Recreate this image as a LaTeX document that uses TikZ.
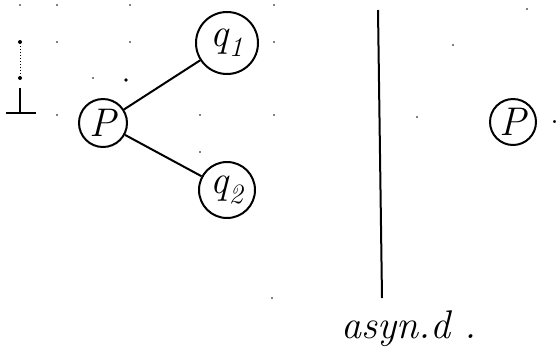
\documentclass[tikz,border=0pt]{standalone}
\usepackage{fontspec}
\begin{document}
\begin{tikzpicture}[x=1pt, y=-1pt, line width=2pt,
    estado/.style={draw, circle, inner sep=0pt, font=\fontsize{40}{44}\selectfont\itshape},
    punto/.style={inner sep=0pt}]
    \useasboundingbox (0,0) rectangle (559,360);

    % Puntos de la cuadrícula del papel
    \foreach \x/\y in {20/5, 57/5, 130/5, 274/5, 57/42, 130/42, 274/42, 93/78,
                       57/115, 200/115, 274/115, 200/152, 272/298, 417/117, 453/45, 527/9}
        \fill (\x,\y) circle (0.9pt);

    % Símbolo de fondo con línea punteada
    \fill (20,42) circle (2pt);
    \fill (20,78) circle (2pt);
    \fill (126,80) circle (1.8pt);
    \draw[line width=1pt, dotted] (20,46) -- (20,76);
    \draw (20,88) -- (20,113);
    \draw (6,113) -- (36,113);

    % Árbol: p con sus hijos q1 y q2
    \node[estado, minimum size=48pt] (p) at (103,123) {P};
    \node[estado, minimum size=62pt] (q1) at (227,43) {q\textsubscript{1}};
    \node[estado, minimum size=56pt] (q2) at (227,190) {q\textsubscript{2}};
    \draw (p) -- (q1);
    \draw (p) -- (q2);

    % Separador vertical y etiqueta
    \coordinate (arriba) at (378,10);
    \coordinate (abajo) at (382,298);
    \draw (arriba) -- (abajo);
    \node[font=\fontsize{40}{44}\selectfont\itshape] (asyn) at (409,329) {asyn.d .};

    % Estado p solo a la derecha
    \node[estado, minimum size=46pt] (p2) at (513,122) {P};
    \node[punto, anchor=west, font=\fontsize{36}{40}\selectfont] (fin) at ([xshift=12pt]p2.east) {.};
\end{tikzpicture}
\end{document}
